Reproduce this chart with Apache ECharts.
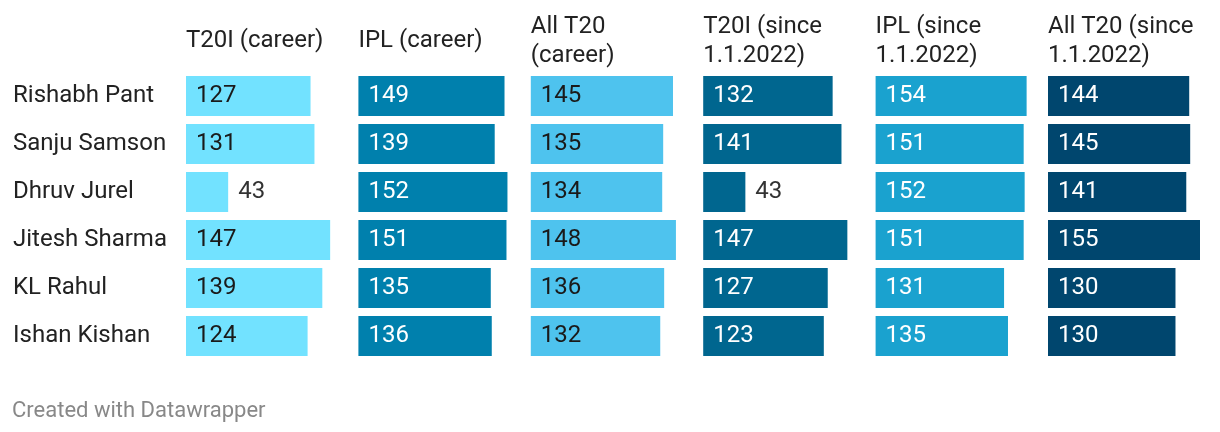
<!DOCTYPE html>
<html><head><meta charset="utf-8">
<script src="https://cdn.jsdelivr.net/npm/echarts@6/dist/echarts.min.js"></script>
<style>html,body{margin:0;padding:0;background:#fff}#c{width:1220px;height:432px}</style>
</head><body><div id="c"></div>
<script>
const players = ["Rishabh Pant","Sanju Samson","Dhruv Jurel","Jitesh Sharma","KL Rahul","Ishan Kishan"];
const headers = ["T20I (career)","IPL (career)","All T20\n(career)","T20I (since\n1.1.2022)","IPL (since\n1.1.2022)","All T20 (since\n1.1.2022)"];
const t20iCareer = [127,131,43,147,139,124];
const iplCareer = [149,139,152,151,135,136];
const allT20Career = [145,135,134,148,136,132];
const t20iSince = [132,141,43,147,127,123];
const iplSince = [154,151,152,151,131,135];
const allT20Since = [144,145,141,155,130,130];
const colors = ["#72e2ff","#0080ad","#4ec3ee","#00668f","#1aa2cf","#00466e"];
const labelColors = ["#1a1a1a","#ffffff","#1a1a1a","#ffffff","#ffffff","#ffffff"];
const footer = "Created with Datawrapper";

const seriesData = [t20iCareer,iplCareer,allT20Career,t20iSince,iplSince,allT20Since];
const FONT = 'Roboto';
const FS = 24;
const colStart = 186, colStep = 172.4, colW = 152, gridTop = 72, rowH = 48;

const grids=[], xAxes=[], yAxes=[], series=[], graphics=[];
seriesData.forEach((vals,i)=>{
  const left = colStart + i*colStep;
  grids.push({left:left, top:gridTop, width:colW, height:rowH*players.length});
  xAxes.push({gridIndex:i, type:'value', min:0, max:155, show:false});
  yAxes.push({gridIndex:i, type:'category', data:players, inverse:true,
    axisLine:{show:false}, axisTick:{show:false}, splitLine:{show:false},
    axisLabel:{show:i===0, align:'left', margin:left-13, padding:[4,0,0,0], fontFamily:FONT, fontSize:FS, color:'#222'}});
  series.push({type:'bar', xAxisIndex:i, yAxisIndex:i, barWidth:40, silent:true,
    itemStyle:{color:colors[i]},
    label:{show:true, position:'insideLeft', distance:10, padding:[4,0,0,0], fontFamily:FONT, fontSize:FS, color:labelColors[i]},
    data: vals.map(v => v < 60 ? {value:v, label:{position:'right', distance:10, color:'#333'}} : v)
  });
  graphics.push({type:'text', x:left, y:41,
    style:{text:headers[i], fontFamily:FONT, fontSize:FS, fill:'#222', lineHeight:29, textVerticalAlign:'middle', textAlign:'left'}});
});
graphics.push({type:'text', x:12, y:411, style:{text:footer, fontFamily:FONT, fontSize:22, fill:'#888', textVerticalAlign:'middle'}});

const chart = echarts.init(document.getElementById('c'), null, {renderer:'canvas'});
chart.setOption({animation:false, grid:grids, xAxis:xAxes, yAxis:yAxes, series:series, graphic:graphics});
</script></body></html>
